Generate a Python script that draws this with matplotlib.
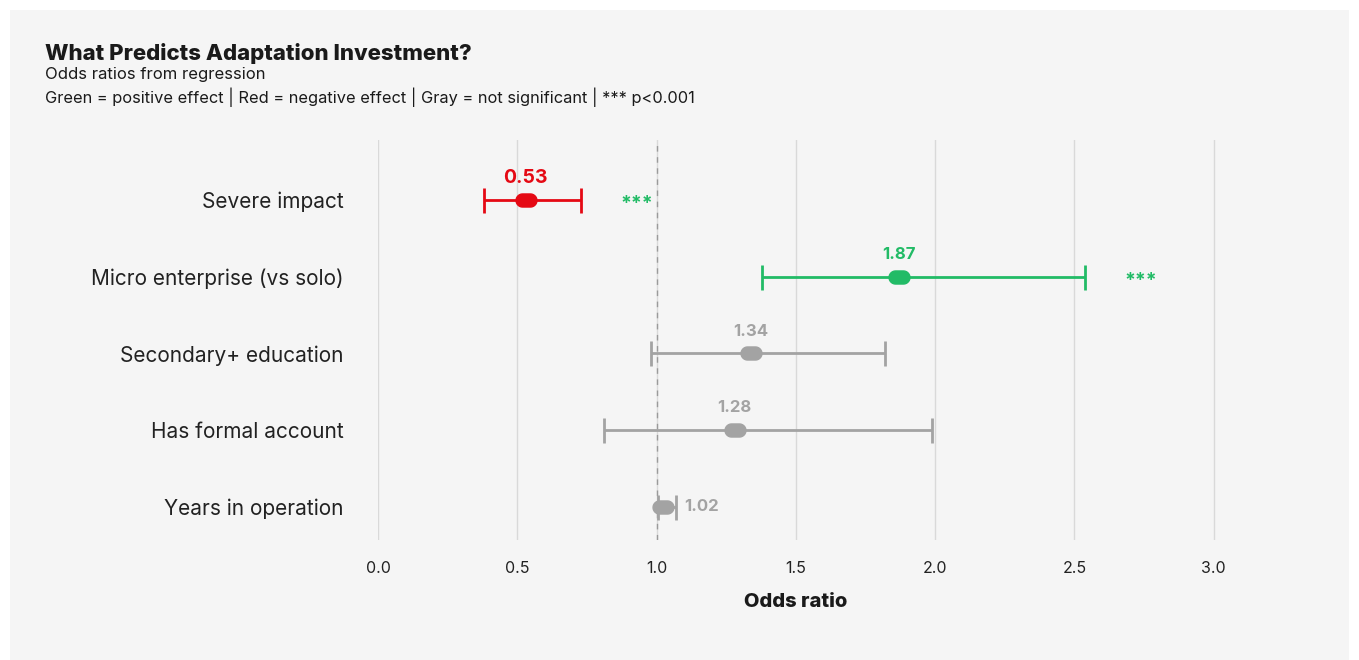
import matplotlib
matplotlib.use("Agg")
import matplotlib.pyplot as plt
import numpy as np
from matplotlib.path import Path
from matplotlib.patches import Rectangle

# ---- data ----
predictors = ["Severe impact", "Micro enterprise (vs solo)", "Secondary+ education",
              "Has formal account", "Years in operation"]
odds = [0.53, 1.87, 1.34, 1.28, 1.024]
ci_low = [0.38, 1.38, 0.98, 0.81, 1.005]
ci_high = [0.73, 2.54, 1.82, 1.99, 1.07]
effect = ["neg", "pos", "ns", "ns", "ns"]
stars = ["***", "***", "", "", ""]
xticks = [0.0, 0.5, 1.0, 1.5, 2.0, 2.5, 3.0]

colors = {"neg": "#e50914", "pos": "#22bb66", "ns": "#a3a3a3"}
FONT = ["Inter", "DejaVu Sans"]
plt.rcParams["font.family"] = FONT

fig = plt.figure(figsize=(13.59, 6.6), dpi=100)
fig.patch.set_facecolor("white")
fig.add_artist(Rectangle((10 / 1359, 0), 1339 / 1359, 650 / 660, transform=fig.transFigure,
                         facecolor="#f5f5f5", edgecolor="none", zorder=-10))

ax = fig.add_axes([378 / 1359, 1 - 540 / 660, (1325 - 378) / 1359, 400 / 660])
ax.set_facecolor("none")

n = len(predictors)
ypos = np.arange(n)[::-1]  # first predictor at top

# stadium marker
t = np.linspace(-np.pi / 2, np.pi / 2, 20)
r = 0.5
right = np.column_stack([0.3 + r * np.cos(t), r * np.sin(t)])
left = np.column_stack([-0.3 - r * np.cos(t), -r * np.sin(t)])
verts = np.vstack([right, left, right[:1]])
stadium = Path(verts, closed=True)

ax.axvline(1.0, color="#9a9a9a", lw=1, ls=(0, (4, 4)), zorder=1)

for i in range(n):
    c = colors[effect[i]]
    y = ypos[i]
    ax.errorbar([odds[i]], [y], xerr=[[odds[i] - ci_low[i]], [ci_high[i] - odds[i]]],
                fmt="none", ecolor=c, elinewidth=2.0, capsize=9, capthick=2.0, zorder=3)
    ax.plot([odds[i]], [y], marker=stadium, markersize=15, color=c, mec=c, ls="none", zorder=4)
    if ci_high[i] - ci_low[i] < 0.15:
        ax.text(ci_high[i] + 0.03, y, f"{odds[i]:.2f}", color=c, fontsize=12,
                fontweight="bold", ha="left", va="center", zorder=5)
    else:
        fs = 14 if effect[i] == "neg" else 12
        ax.text(odds[i], y + 0.29, f"{odds[i]:.2f}", color=c, fontsize=fs,
                fontweight="bold", ha="center", va="center", zorder=5)
    if stars[i]:
        ax.text(ci_high[i] + 0.2, y - 0.06, stars[i], color=colors["pos"], fontsize=14,
                fontweight="bold", ha="center", va="center", zorder=5)

ax.set_xlim(0, 3.4)
ax.set_ylim(-0.43, 4.78)
ax.set_xticks(xticks)
ax.set_xticklabels([f"{v:.1f}" for v in xticks], fontsize=11.5, color="#222222")
ax.set_yticks(ypos)
ax.set_yticklabels(predictors, fontsize=15, color="#222222")
ax.tick_params(axis="both", length=0)
ax.tick_params(axis="x", pad=15)
ax.tick_params(axis="y", pad=25)
ax.grid(axis="x", color="#d9d9d9", lw=1)
ax.set_axisbelow(True)
for s in ax.spines.values():
    s.set_visible(False)
ax.set_xlabel("Odds ratio", fontsize=14.5, fontweight="heavy", color="#1a1a1a")
ax.xaxis.set_label_coords((796 - 378) / (1325 - 378), -0.133)

fig.text(45 / 1359, 1 - 53 / 660, "What Predicts Adaptation Investment?", fontsize=16,
         fontweight="heavy", color="#1a1a1a", ha="left", va="center")
fig.text(45 / 1359, 1 - 75 / 660, "Odds ratios from regression", fontsize=12,
         color="#1a1a1a", ha="left", va="center")
fig.text(45 / 1359, 1 - 97 / 660,
         "Green = positive effect | Red = negative effect | Gray = not significant | *** p<0.001",
         fontsize=11.8, color="#1a1a1a", ha="left", va="center")

fig.savefig("out.png", dpi=100, facecolor=fig.get_facecolor())
